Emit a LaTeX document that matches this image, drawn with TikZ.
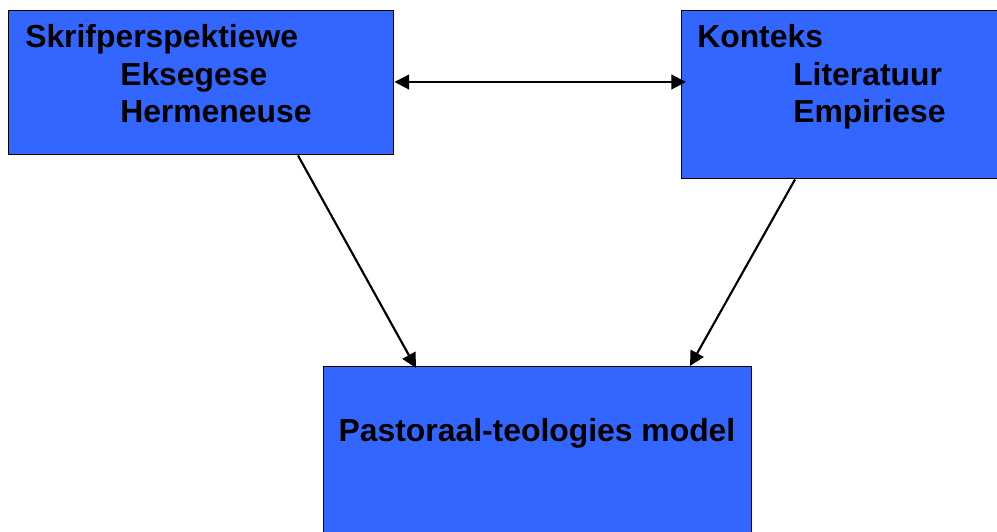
\documentclass[tikz,border=0pt]{standalone}
\usepackage{fontspec}
\setmainfont{Liberation Sans}
\usetikzlibrary{arrows.meta,calc}
\definecolor{boxblue}{HTML}{3366FF}
\begin{document}
\begin{tikzpicture}[x=0.75pt,y=-0.75pt,
  box/.style={draw=black,line width=1.1pt,fill=boxblue,rectangle,inner sep=0pt},
  lbl/.style={anchor=base west,inner sep=0pt,font=\fontsize{23.9}{28}\selectfont\bfseries},
  arr/.style={line width=1.6pt,-{Triangle[length=11pt,width=11pt]}},
  darr/.style={line width=1.6pt,{Triangle[length=11pt,width=11pt]}-{Triangle[length=11pt,width=11pt]}}]
\useasboundingbox (0,0) rectangle (997,532);
\clip (0,0) rectangle (997,532);
\node[box,minimum width=385*0.75pt,minimum height=144*0.75pt,anchor=north west] (L) at (8,10) {};
\node[box,minimum width=330*0.75pt,minimum height=168*0.75pt,anchor=north west] (R) at (681,10) {};
\node[box,minimum width=428*0.75pt,minimum height=190*0.75pt,anchor=north west] (B) at (323,366) {};
\node[lbl] (l1) at (25,47) {Skrifperspektiewe};
\node[lbl] (l2) at (120,85) {Eksegese};
\node[lbl] (l3) at (120,122) {Hermeneuse};
\node[lbl] (r1) at (697,47) {Konteks};
\node[lbl] (r2) at (793,85) {Literatuur};
\node[lbl] (r3) at (793,122) {Empiriese};
\node[lbl,anchor=base] (b1) at (537,441) {Pastoraal-teologies model};
\draw[darr] ($(L.north east)+(0,72)$) -- ($(R.north west)+(5,72)$);
\draw[arr] ($(L.south west)+(290,0)$) -- ($(B.north west)+(93,2)$);
\draw[arr] ($(R.south west)+(114,0)$) -- ($(B.north west)+(367,0)$);
\end{tikzpicture}
\end{document}
